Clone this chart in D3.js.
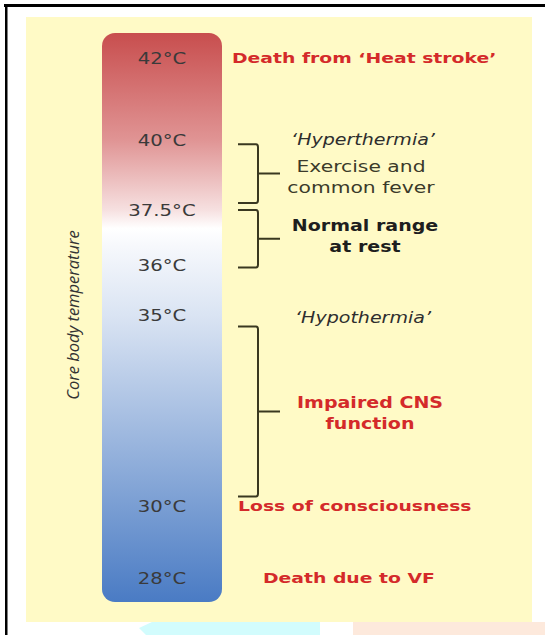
<!DOCTYPE html>
<html>
<head>
<meta charset="utf-8">
<script src="https://cdn.jsdelivr.net/npm/d3@7"></script>
<style>
  body { margin: 0; background: #fff; }
  svg { display: block; }
</style>
</head>
<body>
<svg width="545" height="635"></svg>
<script>
// temperature marks shown inside the bar
const temps = [42, 40, 37.5, 36, 35, 30, 28];
const tempLabels = ['42°C', '40°C', '37.5°C', '36°C', '35°C', '30°C', '28°C'];
// bar colour stops, by temperature
const stopTemps = [42.4, 40, 37.5, 37, 36.5, 35, 30, 27.6];
const stopColors = ['#c84e4e', '#e09494', '#f6e0e0', '#ffffff', '#f6f8fc', '#dae4f3', '#7a9ed3', '#4a7bc4'];
// events (red), at a temperature
const events = [
  {t: 42, text: "Death from ‘Heat stroke’", x: 232},
  {t: 30, text: 'Loss of consciousness', x: 238},
  {t: 28, text: 'Death due to VF', x: 263},
];
// ranges marked with a bracket (bracket ends in °C)
const ranges = [
  {at: 40, top: 39.85, bottom: 37.75, title: '‘Hyperthermia’', lines: ['Exercise and', 'common fever'], kind: 'plain'},
  {at: 37.5, top: 37.5, bottom: 35.95, title: null, lines: ['Normal range', 'at rest'], kind: 'bold'},
  {at: 35, top: 34.7, bottom: 30.25, title: '‘Hypothermia’', lines: ['Impaired CNS', 'function'], kind: 'red'},
];

const svg = d3.select('svg');
const barX = 102, barW = 120, barTop = 33, barBottom = 602;

// the scale is not linear in the source, so it is piecewise
const y = d3.scaleLinear()
  .domain([42.4, 42, 40, 37.5, 36, 35, 30, 28, 27.6])
  .range([barTop, 58, 140, 210, 265, 315, 506, 578, barBottom]);

// page artefacts
svg.append('rect').attr('x', 353).attr('y', 622).attr('width', 192).attr('height', 13).attr('fill', '#fde9dc');
svg.append('path').attr('d', 'M146,635 L139,628 L152,622 L320,622 L320,635 Z').attr('fill', '#d2fcfd');
svg.append('rect').attr('x', 26).attr('y', 17).attr('width', 506).attr('height', 605).attr('fill', '#fffac6');
svg.append('rect').attr('x', 4).attr('y', 4).attr('width', 541).attr('height', 3).attr('fill', '#000');
svg.append('rect').attr('x', 5).attr('y', 4).attr('width', 2.5).attr('height', 631).attr('fill', '#000');

const grad = svg.append('defs').append('linearGradient')
  .attr('id', 'temp')
  .attr('gradientUnits', 'userSpaceOnUse')
  .attr('x1', 0).attr('x2', 0)
  .attr('y1', barTop).attr('y2', barBottom);
grad.selectAll('stop')
  .data(stopTemps)
  .enter()
  .append('stop')
  .attr('offset', d => (y(d) - barTop) / (barBottom - barTop))
  .attr('stop-color', (d, i) => stopColors[i]);

svg.append('rect')
  .attr('x', barX).attr('y', barTop)
  .attr('width', barW).attr('height', barBottom - barTop)
  .attr('rx', 13)
  .attr('fill', 'url(#temp)');

const sx = 1.27;

svg.selectAll('.tlabel')
  .data(temps)
  .enter()
  .append('text')
  .attr('class', 'tlabel')
  .attr('transform', d => `translate(${barX + barW / 2},${y(d) + 6}) scale(${sx},1)`)
  .attr('text-anchor', 'middle')
  .attr('font-family', 'DejaVu Sans')
  .attr('font-size', 15.5)
  .attr('fill', '#3a3a3a')
  .text((d, i) => tempLabels[i]);

svg.append('text')
  .attr('transform', `translate(79,315) rotate(-90)`)
  .attr('text-anchor', 'middle')
  .attr('font-family', 'Open Sans')
  .attr('font-style', 'italic')
  .attr('font-size', 16.5)
  .attr('fill', '#333')
  .text('Core body temperature');

svg.selectAll('.event')
  .data(events)
  .enter()
  .append('text')
  .attr('class', 'event')
  .attr('transform', d => `translate(${d.x},${y(d.t) + 5}) scale(${sx},1)`)
  .attr('font-family', 'DejaVu Sans')
  .attr('font-weight', 'bold')
  .attr('font-size', 14.8)
  .attr('fill', '#d42a2a')
  .text(d => d.text);

// brackets
const bx0 = 238, bx1 = 258, bx2 = 280;
const styles = {
  plain: {w: 'normal', c: '#3b3a2a', s: 16, cx: 361, dy: 3},
  bold: {w: 'bold', c: '#1e1e1e', s: 15, cx: 365, dy: -3},
  red: {w: 'bold', c: '#d42a2a', s: 15, cx: 370, dy: 2},
};
ranges.forEach((r) => {
  const top = y(r.top), bot = y(r.bottom);
  const mid = (top + bot) / 2;
  svg.append('path')
    .attr('d', `M${bx0},${top} L${bx1 - 2},${top} Q${bx1},${top} ${bx1},${top + 3} L${bx1},${mid} L${bx2},${mid} M${bx1},${mid} L${bx1},${bot - 3} Q${bx1},${bot} ${bx1 - 2},${bot} L${bx0},${bot}`)
    .attr('fill', 'none')
    .attr('stroke', '#3a3820')
    .attr('stroke-width', 2);

  if (r.title) {
    svg.append('text')
      .attr('transform', `translate(363,${y(r.at) + (r.at < 37 ? 8 : 5)}) scale(${sx},1)`)
      .attr('text-anchor', 'middle')
      .attr('font-family', 'DejaVu Sans')
      .attr('font-style', 'italic')
      .attr('font-size', 15)
      .attr('fill', '#2e2e2e')
      .text(r.title);
  }
  const st = styles[r.kind];
  r.lines.forEach((line, i) => {
    svg.append('text')
      .attr('transform', `translate(${st.cx},${mid + st.dy + (i - 0.5) * 21}) scale(${sx},1)`)
      .attr('text-anchor', 'middle')
      .attr('dy', '0.35em')
      .attr('font-family', 'DejaVu Sans')
      .attr('font-weight', st.w)
      .attr('font-size', st.s)
      .attr('fill', st.c)
      .text(line);
  });
});
</script>
</body>
</html>
